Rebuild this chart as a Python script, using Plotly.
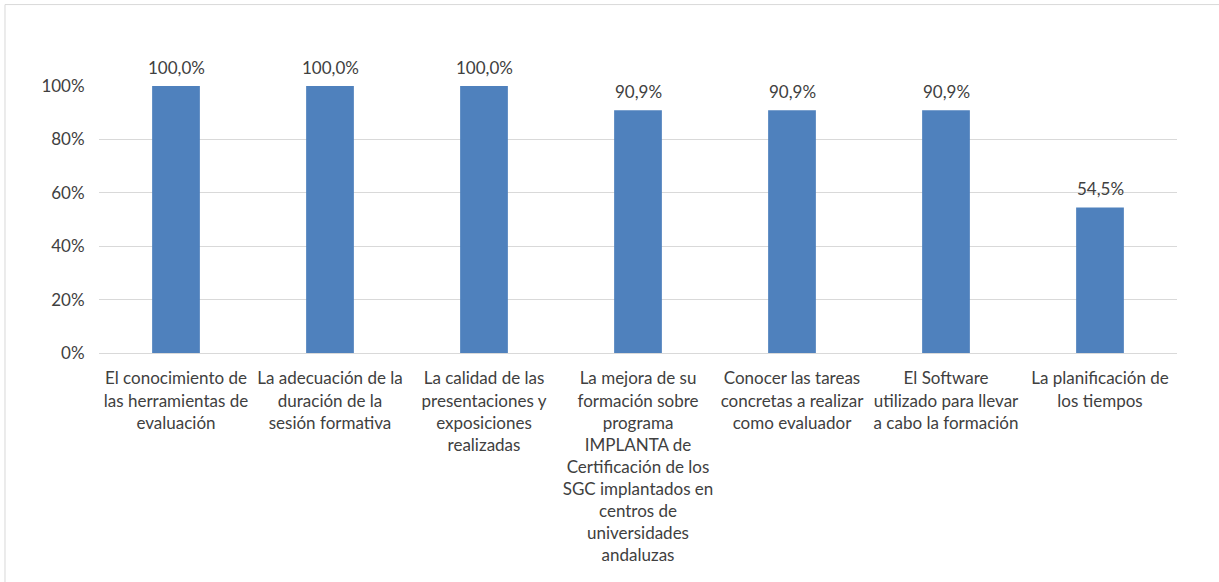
import plotly.graph_objects as go

categories = [
    "El conocimiento de<br>las herramientas de<br>evaluación",
    "La adecuación de la<br>duración de la<br>sesión formativa",
    "La calidad de las<br>presentaciones y<br>exposiciones<br>realizadas",
    "La mejora de su<br>formación sobre<br>programa<br>IMPLANTA de<br>Certificación de los<br>SGC implantados en<br>centros de<br>universidades<br>andaluzas",
    "Conocer las tareas<br>concretas a realizar<br>como evaluador",
    "El Software<br>utilizado para llevar<br>a cabo la formación",
    "La planificación de<br>los tiempos",
]
values = [1.0, 1.0, 1.0, 0.909, 0.909, 0.909, 0.545]
value_labels = ["100,0%", "100,0%", "100,0%", "90,9%", "90,9%", "90,9%", "54,5%"]
y_ticks = [0, 0.2, 0.4, 0.6, 0.8, 1.0]
y_ticktext = ["0%", "20%", "40%", "60%", "80%", "100%"]

FONT = "Lato"
TXT = "#404040"

fig = go.Figure(go.Bar(x=categories, y=values, marker_color="#4F81BD", marker_line_width=0,
                       hoverinfo="skip"))

for c, v, t in zip(categories, values, value_labels):
    fig.add_annotation(x=c, y=v, text=t, showarrow=False, yanchor="bottom", yshift=6,
                       font=dict(family=FONT, size=17, color=TXT))

# outer chart frame
fig.add_shape(type="rect", xref="paper", yref="paper", x0=-0.0872, x1=1.2, y0=-1.5, y1=1.305,
              line=dict(color="#d9d9d9", width=1), layer="below")

fig.update_layout(
    width=1219, height=582,
    margin=dict(l=99, r=42, t=86, b=229),
    paper_bgcolor="white", plot_bgcolor="white",
    bargap=0.69, showlegend=False,
    font=dict(family=FONT, size=17, color=TXT),
    xaxis=dict(showgrid=False, showline=False, ticks="outside", ticklen=10, tickcolor="rgba(0,0,0,0)",
               tickangle=0, tickfont=dict(family=FONT, size=17, color=TXT)),
    yaxis=dict(range=[0, 1], tickvals=y_ticks, ticktext=y_ticktext, showgrid=True, gridcolor="#d9d9d9",
               gridwidth=1, zeroline=True, zerolinecolor="#d9d9d9", zerolinewidth=1, showline=False,
               ticks="outside", ticklen=10, tickcolor="rgba(0,0,0,0)",
               tickfont=dict(family=FONT, size=17, color=TXT)),
)

fig.write_html("out.html", config={"displayModeBar": False},
               post_script="document.body.style.margin='0';")
